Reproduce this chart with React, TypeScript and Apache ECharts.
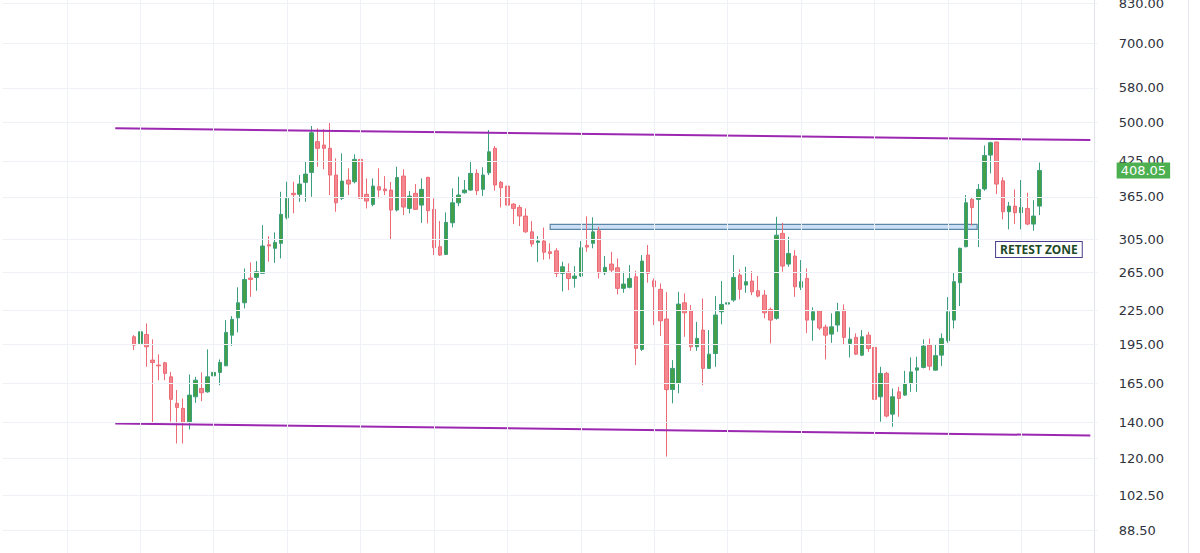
import React, { useEffect, useRef } from "react";
import * as echarts from "echarts";

// [open, close, low, high] per candle
const candles: number[][] = [
  [201.3, 194.3, 190.2, 202.7], [195.7, 205.6, 195.7, 216.8], [203.3, 192.9, 177.2, 213.1], [182.3, 180.5, 138.9, 199.1],
  [178.5, 177.9, 167.4, 186.8], [180.2, 172.3, 167.4, 181.0], [169.8, 154.3, 140.3, 173.4], [151.7, 149.1, 127.9, 160.5],
  [148.5, 139.7, 127.9, 154.9], [140.3, 157.1, 135.8, 171.5], [156.0, 167.4, 152.0, 169.8], [161.6, 158.7, 153.1, 173.0],
  [159.3, 169.8, 158.7, 190.8], [170.5, 173.0, 163.4, 180.5], [173.0, 180.5, 163.9, 182.8], [177.9, 205.1, 177.9, 216.1],
  [202.7, 216.8, 193.7, 219.8], [218.2, 232.6, 205.1, 248.4], [232.6, 256.9, 227.1, 269.2], [258.4, 256.9, 238.6, 276.2],
  [259.1, 265.4, 244.8, 277.7], [263.6, 296.1, 263.6, 323.6], [297.7, 296.1, 276.9, 308.8], [293.2, 300.7, 275.7, 313.7],
  [299.5, 338.7, 280.9, 372.9], [333.9, 362.6, 331.6, 389.1], [370.4, 368.2, 340.2, 389.1], [368.8, 385.3, 357.3, 400.3],
  [388.1, 402.0, 357.3, 423.6], [404.9, 479.2, 365.1, 493.1], [461.3, 448.5, 414.7, 488.3], [454.8, 448.5, 410.2, 486.8],
  [448.5, 400.3, 367.7, 500.9], [400.3, 355.8, 342.5, 429.8], [362.6, 390.2, 360.0, 439.0], [391.9, 385.3, 367.7, 411.9],
  [389.1, 427.9, 386.4, 437.1], [427.9, 362.6, 351.3, 429.5], [368.8, 358.4, 347.4, 394.7], [353.4, 382.0, 350.5, 394.7],
  [380.9, 375.6, 362.6, 411.9], [377.2, 374.5, 367.7, 398.6], [375.6, 345.0, 303.7, 388.6], [345.0, 396.1, 343.0, 414.7],
  [398.6, 349.4, 337.7, 410.2], [347.4, 366.1, 340.2, 374.0], [370.4, 346.0, 345.0, 385.3], [352.3, 376.7, 326.8, 394.7],
  [396.4, 344.0, 326.0, 397.5], [346.0, 293.9, 284.9, 362.6], [295.2, 284.9, 283.7, 329.2], [285.7, 327.4, 285.0, 341.6],
  [326.8, 355.8, 320.5, 378.3], [355.8, 367.7, 350.8, 397.4], [371.3, 375.6, 370.0, 391.9], [375.6, 403.2, 374.5, 425.4],
  [403.2, 374.5, 367.7, 410.2], [376.7, 400.3, 366.1, 413.7], [404.2, 442.0, 400.3, 484.7], [448.5, 383.7, 374.5, 452.9],
  [388.1, 379.3, 348.9, 390.2], [382.0, 352.3, 340.2, 383.7], [353.8, 347.4, 325.0, 355.0], [348.9, 336.3, 322.3, 352.3],
  [336.3, 314.5, 313.2, 347.4], [314.5, 298.6, 295.2, 329.2], [300.7, 302.4, 276.5, 308.8], [302.4, 288.3, 279.4, 320.2],
  [288.9, 286.9, 280.0, 299.5], [290.1, 263.6, 259.5, 293.5], [263.6, 271.1, 244.1, 276.9], [265.0, 258.0, 245.5, 275.0],
  [258.0, 260.6, 248.1, 271.9], [260.6, 293.9, 259.5, 302.4], [296.9, 294.8, 288.9, 335.9], [299.5, 314.5, 293.2, 334.5],
  [315.9, 264.2, 258.0, 321.3], [264.2, 270.4, 261.7, 283.7], [274.2, 267.3, 264.2, 288.9], [269.9, 247.3, 241.1, 280.9],
  [247.3, 251.9, 242.7, 265.4], [248.4, 258.0, 247.3, 273.0], [259.8, 191.6, 178.5, 266.5], [190.8, 277.7, 189.5, 284.9],
  [284.9, 263.6, 253.3, 297.3], [255.4, 249.0, 211.6, 258.0], [246.3, 215.5, 201.9, 252.6], [217.1, 160.8, 121.0, 243.4],
  [160.9, 176.0, 151.7, 182.3], [165.1, 231.3, 158.3, 243.7], [232.6, 222.9, 201.3, 242.1], [224.8, 192.9, 189.6, 230.4],
  [192.9, 199.9, 189.6, 214.5], [207.1, 176.0, 163.9, 237.0], [176.0, 187.0, 175.5, 207.1], [187.5, 220.8, 177.2, 239.3],
  [223.9, 231.0, 212.2, 255.1], [231.3, 232.6, 230.5, 276.9], [235.3, 259.1, 233.6, 284.9], [261.7, 246.3, 236.0, 268.1],
  [250.8, 254.4, 242.7, 271.1], [255.1, 243.7, 240.3, 266.2], [244.8, 239.3, 238.0, 260.6], [240.3, 222.9, 217.7, 245.5],
  [226.2, 216.1, 195.7, 228.1], [217.7, 310.1, 216.5, 335.3], [312.4, 271.9, 265.4, 326.8], [274.2, 286.9, 271.1, 307.9],
  [283.7, 249.0, 238.6, 291.0], [248.4, 254.4, 245.5, 278.9], [258.0, 216.1, 204.5, 269.2], [216.1, 223.9, 197.9, 228.1],
  [224.8, 208.9, 207.1, 225.5], [209.8, 202.7, 182.8, 212.0], [203.6, 210.0, 196.2, 222.4], [211.6, 223.9, 205.6, 232.6],
  [225.5, 200.8, 194.3, 231.0], [195.7, 199.3, 184.4, 209.5], [200.8, 187.0, 186.2, 204.2], [186.2, 201.3, 185.4, 207.1],
  [202.7, 191.6, 188.8, 205.6], [192.4, 154.3, 136.4, 193.5], [156.0, 172.3, 140.3, 177.2], [172.3, 143.7, 142.9, 173.4],
  [144.9, 156.0, 137.3, 161.6], [159.3, 154.9, 143.3, 162.7], [157.1, 165.1, 156.5, 174.2], [165.1, 173.4, 159.3, 184.4],
  [174.7, 176.4, 159.3, 184.9], [176.7, 193.5, 176.0, 199.1], [194.3, 177.7, 174.5, 199.9], [174.7, 185.8, 174.3, 194.7],
  [186.2, 199.9, 177.7, 204.2], [197.9, 223.9, 196.2, 238.3], [216.1, 254.4, 208.6, 263.9], [253.3, 293.2, 229.4, 294.0],
  [295.2, 355.8, 294.5, 367.7], [361.0, 348.6, 323.0, 363.8], [361.0, 376.7, 294.8, 385.3], [377.4, 434.9, 374.5, 453.9],
  [435.8, 459.3, 403.2, 461.3], [460.7, 385.3, 369.3, 461.3], [390.6, 342.5, 331.6, 396.4], [342.5, 350.8, 317.8, 357.3],
  [350.8, 341.1, 325.0, 376.7], [341.1, 348.9, 317.8, 391.9], [347.4, 325.0, 323.6, 371.3], [325.0, 336.3, 315.9, 359.9],
  [350.8, 408.05, 337.7, 422.2],
];

const weeks: string[] = candles.map((_, i) => `W${i + 1}`);
const priceTicks: number[] = [88.5, 102.5, 120, 140, 165, 195, 225, 265, 305, 365, 425, 500, 580, 700, 830];
const lastPrice = 408.05;

// trend channel endpoints: [candle position, price]
const channelTop: number[][] = [[-3.1, 488.3], [156.3, 464.6]];
const channelBottom: number[][] = [[-3.1, 139.3], [156.3, 132.3]];

// retest zone: [from position, to position], [upper price, lower price]
const zoneSpan: number[] = [68, 137.8];
const zonePrices: number[] = [324.6, 317.8];
const zoneLabelAt: number[] = [147.9, 291.7];
const zoneLabelText = "RETEST ZONE";

const Y_MIN = 80.3;
const Y_MAX = 842.5;
const LEAD = 21;
const TRAIL = 9;
const STEP = 6.117;
const GRID_LEFT = 2.7;
const GRID_EVERY = 12;

export default function App() {
  const ref = useRef<HTMLDivElement>(null);

  useEffect(() => {
    if (!ref.current) return;
    const chart = echarts.init(ref.current, undefined, { renderer: "svg" });

    const lead = Array.from({ length: LEAD }, (_, i) => `pre${i}`);
    const trail = Array.from({ length: TRAIL }, (_, i) => `post${i}`);
    const axisCats = [...lead, ...weeks, ...trail];
    const xMin = -LEAD - 0.5;
    const xMax = weeks.length + TRAIL - 0.5;

    const vGrid: number[] = [];
    for (let v = 1 - GRID_EVERY; v < xMax; v += GRID_EVERY) vGrid.push(v);

    const gridColor = "#eef1f6";
    const font = "DejaVu Sans, sans-serif";

    const option: any = {
      animation: false,
      backgroundColor: "#ffffff",
      grid: {
        left: GRID_LEFT,
        top: 0,
        width: STEP * axisCats.length,
        height: 553,
        containLabel: false,
        outerBoundsMode: "none",
      },
      graphic: [
        {
          type: "line",
          shape: { x1: 1188.5, y1: 0, x2: 1188.5, y2: 553 },
          style: { stroke: "#e6e9ef", lineWidth: 1 },
          silent: true,
        },
      ],
      xAxis: [
        { type: "category", data: axisCats, show: false, boundaryGap: true },
        { type: "value", min: xMin, max: xMax, show: false },
      ],
      yAxis: {
        type: "log",
        logBase: 10,
        min: Y_MIN,
        max: Y_MAX,
        position: "right",
        axisLine: { show: false },
        axisTick: { show: false },
        splitLine: { show: false },
        axisLabel: {
          customValues: priceTicks,
          formatter: (v: number) => Number(v).toFixed(2),
          margin: 21,
          color: "#2f333d",
          fontSize: 13,
          fontFamily: font,
        },
      },
      series: [
        {
          name: "grid",
          type: "line",
          xAxisIndex: 1,
          yAxisIndex: 0,
          data: [],
          z: 0,
          silent: true,
          markLine: {
            silent: true,
            symbol: ["none", "none"],
            label: { show: false },
            lineStyle: { color: gridColor, width: 1, type: "solid" },
            data: [
              ...vGrid.map((v) => ({ xAxis: v })),
              { xAxis: weeks.length + TRAIL - 1, lineStyle: { color: "#e0e3eb", width: 1, type: "solid" } },
              ...priceTicks.map((p) => ({ yAxis: p })),
            ],
          },
        },
        {
          name: "zone",
          type: "line",
          xAxisIndex: 1,
          yAxisIndex: 0,
          data: [],
          z: 1,
          silent: true,
          markArea: {
            silent: true,
            itemStyle: {
              color: "rgba(160,198,240,0.55)",
              borderColor: "#5b86a6",
              borderWidth: 1.2,
            },
            data: [
              [
                { xAxis: zoneSpan[0], yAxis: zonePrices[0] },
                { xAxis: zoneSpan[1], yAxis: zonePrices[1] },
              ],
            ],
          },
        },
        {
          name: "price",
          type: "candlestick",
          xAxisIndex: 0,
          yAxisIndex: 0,
          z: 3,
          barWidth: 4,
          encode: { x: 0, y: [1, 2, 3, 4] },
          data: candles.map((c, i) => [weeks[i], c[0], c[1], c[2], c[3]]),
          itemStyle: {
            color: "#43a047",
            color0: "#f4878e",
            borderColor: "#3b9e7e",
            borderColor0: "#ec6b76",
            borderWidth: 1,
          },
        },
        {
          name: "channelTop",
          type: "line",
          xAxisIndex: 1,
          yAxisIndex: 0,
          data: channelTop,
          symbol: "none",
          z: 4,
          lineStyle: { color: "#9c27b0", width: 2 },
          silent: true,
        },
        {
          name: "channelBottom",
          type: "line",
          xAxisIndex: 1,
          yAxisIndex: 0,
          data: channelBottom,
          symbol: "none",
          z: 4,
          lineStyle: { color: "#9c27b0", width: 2 },
          silent: true,
        },
        {
          name: "annotations",
          type: "line",
          xAxisIndex: 1,
          yAxisIndex: 0,
          data: [],
          z: 5,
          silent: true,
          markPoint: {
            silent: true,
            symbol: "rect",
            symbolSize: [1, 1],
            itemStyle: { color: "rgba(0,0,0,0)" },
            data: [{ coord: zoneLabelAt, value: zoneLabelText }],
            label: {
              show: true,
              position: "inside",
              formatter: zoneLabelText,
              color: "#1f4a2a",
              fontSize: 12,
              fontWeight: "bold",
              fontFamily: "Noto Sans, sans-serif",
              backgroundColor: "#ffffff",
              borderColor: "#4a3f8c",
              borderWidth: 1,
              padding: [2, 4, 1, 4],
            },
          },
        },
        {
          name: "lastPrice",
          type: "line",
          xAxisIndex: 1,
          yAxisIndex: 0,
          data: [],
          z: 6,
          silent: true,
          markLine: {
            silent: true,
            symbol: ["none", "none"],
            lineStyle: { color: "rgba(255,255,255,0)", width: 1, type: "solid" },
            data: [{ yAxis: lastPrice }],
            label: {
              show: true,
              position: "end",
              distance: 19,
              formatter: lastPrice.toFixed(2),
              color: "#ffffff",
              backgroundColor: "#4caf50",
              fontSize: 13,
              fontFamily: font,
              padding: [2, 4, 1, 4],
            },
          },
        },
      ],
    };

    chart.setOption(option);
    return () => chart.dispose();
  }, []);

  return (
    <div
      ref={ref}
      style={{ position: "fixed", left: 0, top: 0, width: 1200, height: 553, background: "#fff" }}
    />
  );
}
